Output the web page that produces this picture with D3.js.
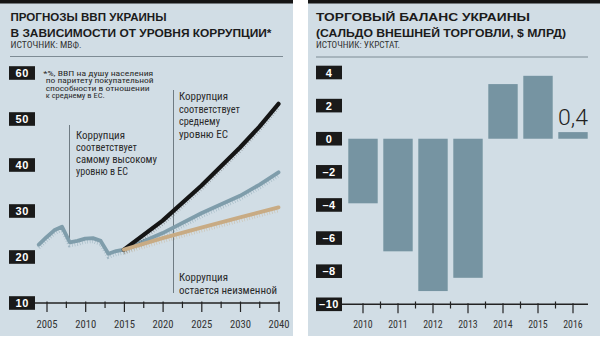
<!DOCTYPE html>
<html><head><meta charset="utf-8">
<script src="https://cdn.jsdelivr.net/npm/d3@7"></script>
<style>html,body{margin:0;padding:0;background:#fff;} svg{display:block}</style>
</head><body>
<svg id="c" width="600" height="337"></svg>
<script>
// ---- data: left chart (GDP per capita PPP, % of EU average) ----
const histYears  = [2004,2005,2006,2007,2008,2009,2010,2011,2012,2013,2014,2015];
const histValues = [22.7,24.3,25.8,26.6,23.2,23.5,24.0,24.1,23.5,20.7,21.3,21.6];
const projYears  = [2015,2020,2025,2030,2035,2040];
const highLevel  = [21.6,27.9,35.5,43.8,48.3,53.3];   // black
const euAverage  = [21.6,25.2,29.5,33.3,35.7,38.4];   // blue
const unchanged  = [21.6,24.1,26.4,28.6,29.7,30.8];   // tan
const leftYTicks = [10,20,30,40,50,60];
const leftXTicks = [2005,2010,2015,2020,2025,2030,2040];
const leftXMinor = [2007.5,2012.5,2017.5,2022.5,2027.5,2035];

// ---- data: right chart (trade balance, $ bn) ----
const tradeYears   = ['2010','2011','2012','2013','2014','2015','2016'];
const tradeBalance = [-3.9,-6.8,-9.2,-8.4,3.3,3.8,0.4];
const rightYTicks  = [4,2,0,-2,-4,-6,-8,-10];

const FONT = "'Liberation Sans Narrow','Roboto Condensed','DejaVu Sans Condensed','Liberation Sans',Arial,sans-serif";
const BOLD = "'Liberation Sans','Roboto',Arial,sans-serif";
const BG = '#d1dde5';
const svg = d3.select('#c');

function txt(g, x, y, s, o) {
  const t = g.append('text').attr('x', x).attr('y', y).text(s)
    .attr('font-size', o.size).attr('font-weight', o.weight || 400)
    .attr('fill', o.fill || '#222').attr('font-family', o.family || FONT);
  if (o.len) t.attr('textLength', o.len).attr('lengthAdjust', 'spacingAndGlyphs');
  if (o.anchor) t.attr('text-anchor', o.anchor);
  return t;
}

// panels
svg.append('rect').attr('x',0).attr('y',0).attr('width',293).attr('height',336).attr('fill',BG);
svg.append('rect').attr('x',308).attr('y',0).attr('width',292).attr('height',336).attr('fill',BG);
svg.append('rect').attr('x',0).attr('y',0).attr('width',293).attr('height',3.5).attr('fill','#151515');
svg.append('rect').attr('x',308).attr('y',0).attr('width',292).attr('height',3.5).attr('fill','#151515');

// ===== LEFT =====
const L = svg.append('g');
txt(L, 10.5, 20.5, 'ПРОГНОЗЫ ВВП УКРАИНЫ', {size:11.5, weight:700, family:BOLD, len:156, fill:'#1b1b1b'});
txt(L, 10.5, 36.5, 'В ЗАВИСИМОСТИ ОТ УРОВНЯ КОРРУПЦИИ*', {size:11.5, weight:700, family:BOLD, len:261, fill:'#1b1b1b'});
txt(L, 10.5, 48.3, 'ИСТОЧНИК: МВФ.', {size:8.5, len:71, fill:'#333'});
L.append('line').attr('x1',10).attr('x2',283).attr('y1',56.5).attr('y2',56.5).attr('stroke','#7d8b94').attr('stroke-width',1);

const xL = d3.scaleLinear().domain([2005,2030,2040]).range([46.5,240,278.5]);
const yL = d3.scaleLinear().domain([10,60]).range([303,73]);

// annotation lines
L.append('line').attr('x1',69.5).attr('x2',69.5).attr('y1',125).attr('y2',yL(23.2)).attr('stroke','#6f7b83').attr('stroke-width',1);
L.append('line').attr('x1',173.5).attr('x2',173.5).attr('y1',90).attr('y2',293).attr('stroke','#6f7b83').attr('stroke-width',1);

// footnote (tight leading)
[['*%, ВВП на душу населения',43.3,75.8,110],['по паритету покупательной',45.7,83.3,108],
 ['способности в отношении',45.7,90.8,104],['к среднему в ЕС.',45.7,98.3,59]].forEach(d=>{
  txt(L, d[1], d[2], d[0], {size:6.6, len:d[3], fill:'#2a2a2a'});
});

// annotations
[['Коррупция',49],['соответствует',61],['самому высокому',81],['уровню в ЕС',52]].forEach((d,i)=>
  txt(L, 76, 139 + i*12, d[0], {size:10, len:d[1], fill:'#2a2a2a'}));
[['Коррупция',49],['соответствует',61],['среднему',41],['уровню ЕС',49]].forEach((d,i)=>
  txt(L, 179, 100 + i*12.7, d[0], {size:10, len:d[1], fill:'#2a2a2a'}));
txt(L, 179, 281, 'Коррупция', {size:10, len:49, fill:'#2a2a2a'});
txt(L, 179, 293.5, 'остается неизменной', {size:10, len:98, fill:'#2a2a2a'});

// lines
const line = d3.line().x(d=>xL(d[0])).y(d=>yL(d[1]));
function drawSeries(years, vals, color, w, fringe) {
  const pts = years.map((y,i)=>[y, vals[i]]);
  L.append('path').attr('d', line(pts)).attr('fill','none').attr('stroke',color)
    .attr('stroke-width',4).attr('stroke-dasharray','0.6 2').attr('opacity',fringe)
    .attr('transform','translate(0,3)');
  L.append('path').attr('d', line(pts)).attr('fill','none').attr('stroke',color)
    .attr('stroke-width',w).attr('stroke-linecap','round').attr('stroke-linejoin','round');
}
drawSeries(histYears, histValues, '#7f9dab', 3.8, 0.6);
drawSeries(projYears, euAverage, '#7f9dab', 3.8, 0.6);
drawSeries(projYears, highLevel, '#151515', 4.2, 0.35);
drawSeries(projYears, unchanged, '#c8ab84', 3.8, 0.6);

// x axis
const axL = d3.axisBottom(xL).tickValues(leftXTicks).tickSize(9).tickPadding(6).tickFormat(d=>String(d));
const gxL = L.append('g').attr('transform','translate(0,303)').call(axL);
gxL.select('.domain').remove();
gxL.selectAll('.tick line').attr('y1',-1.5).attr('stroke','#222').attr('stroke-width',1.2);
gxL.selectAll('.tick text').attr('font-family',FONT).attr('font-size',11.5).attr('fill','#333')
  .attr('y',null).attr('dy',null).attr('transform','translate(0,24.5)')
  .attr('textLength',21).attr('lengthAdjust','spacingAndGlyphs');
const gxLm = L.append('g').attr('transform','translate(0,303)')
  .call(d3.axisBottom(xL).tickValues(leftXMinor).tickSize(5).tickFormat(''));
gxLm.select('.domain').remove();
gxLm.selectAll('.tick line').attr('y1',-1.5).attr('stroke','#222').attr('stroke-width',1.2);
L.append('line').attr('x1',34).attr('x2',280).attr('y1',303).attr('y2',303).attr('stroke','#222').attr('stroke-width',1.5);

// y boxes
leftYTicks.forEach(v=>{
  L.append('rect').attr('x',9).attr('y',yL(v)-6.8).attr('width',26).attr('height',13.6).attr('fill','#1a1a1a');
  txt(L, 22.3, yL(v)+4, String(v), {size:11, weight:700, family:BOLD, fill:'#fff', anchor:'middle'}).attr('letter-spacing',0.8);
});

// ===== RIGHT =====
const R = svg.append('g');
txt(R, 316, 20.5, 'ТОРГОВЫЙ БАЛАНС УКРАИНЫ', {size:11.5, weight:700, family:BOLD, len:214, fill:'#1b1b1b'});
txt(R, 316, 36.5, '(САЛЬДО ВНЕШНЕЙ ТОРГОВЛИ, $ МЛРД)', {size:11.5, weight:700, family:BOLD, len:250, fill:'#1b1b1b'});
txt(R, 316, 48.3, 'ИСТОЧНИК: УКРСТАТ.', {size:8.5, len:84, fill:'#333'});
R.append('line').attr('x1',316).attr('x2',588).attr('y1',57).attr('y2',57).attr('stroke','#7d8b94').attr('stroke-width',1);

const xR = d3.scaleBand().domain(tradeYears).range([345.5,590.5]).paddingInner(0.16).paddingOuter(0.08);
const yR = d3.scaleLinear().domain([-10,4]).range([304.3,72.5]);

R.selectAll('rect.bar').data(tradeYears).enter().append('rect').attr('class','bar')
  .attr('x', d=>xR(d)).attr('width', xR.bandwidth())
  .attr('y', (d,i)=>yR(Math.max(0,tradeBalance[i])))
  .attr('height', (d,i)=>Math.abs(yR(tradeBalance[i])-yR(0)))
  .attr('fill','#7694a2');

const last = tradeYears.length-1;
txt(R, xR(tradeYears[last]) + xR.bandwidth()/2, yR(tradeBalance[last]) - 7.5, '0,4',
  {size:22, weight:300, family:"'Liberation Sans Narrow','Roboto',sans-serif", len:30, fill:'#222', anchor:'middle'});

const axR = d3.axisBottom(xR).tickSize(9).tickPadding(6);
const gxR = R.append('g').attr('transform','translate(0,304.3)').call(axR);
gxR.select('.domain').remove();
gxR.selectAll('.tick line').attr('y1',-1).attr('stroke','#222').attr('stroke-width',1.2);
gxR.selectAll('.tick text').attr('font-family',FONT).attr('font-size',11.5).attr('fill','#333')
  .attr('y',null).attr('dy',null).attr('transform','translate(0,24)')
  .attr('textLength',19.5).attr('lengthAdjust','spacingAndGlyphs');
tradeYears.slice(1).forEach(d=>{
  const xm = xR(d) - (xR.step()-xR.bandwidth())/2;
  R.append('line').attr('x1',xm).attr('x2',xm).attr('y1',301.5).attr('y2',308.5).attr('stroke','#222').attr('stroke-width',1.2);
});
R.append('line').attr('x1',341).attr('x2',588).attr('y1',304.3).attr('y2',304.3).attr('stroke','#222').attr('stroke-width',1.5);

rightYTicks.forEach(v=>{
  R.append('rect').attr('x',316).attr('y',yR(v)-6.8).attr('width',26).attr('height',13.6).attr('fill','#1a1a1a');
  const s = v < 0 ? '\u2013' + Math.abs(v) : String(v);
  txt(R, 329, yR(v)+4, s, {size:11, weight:700, family:BOLD, fill:'#fff', anchor:'middle'}).attr('letter-spacing',0.5);
});
</script>
</body></html>
